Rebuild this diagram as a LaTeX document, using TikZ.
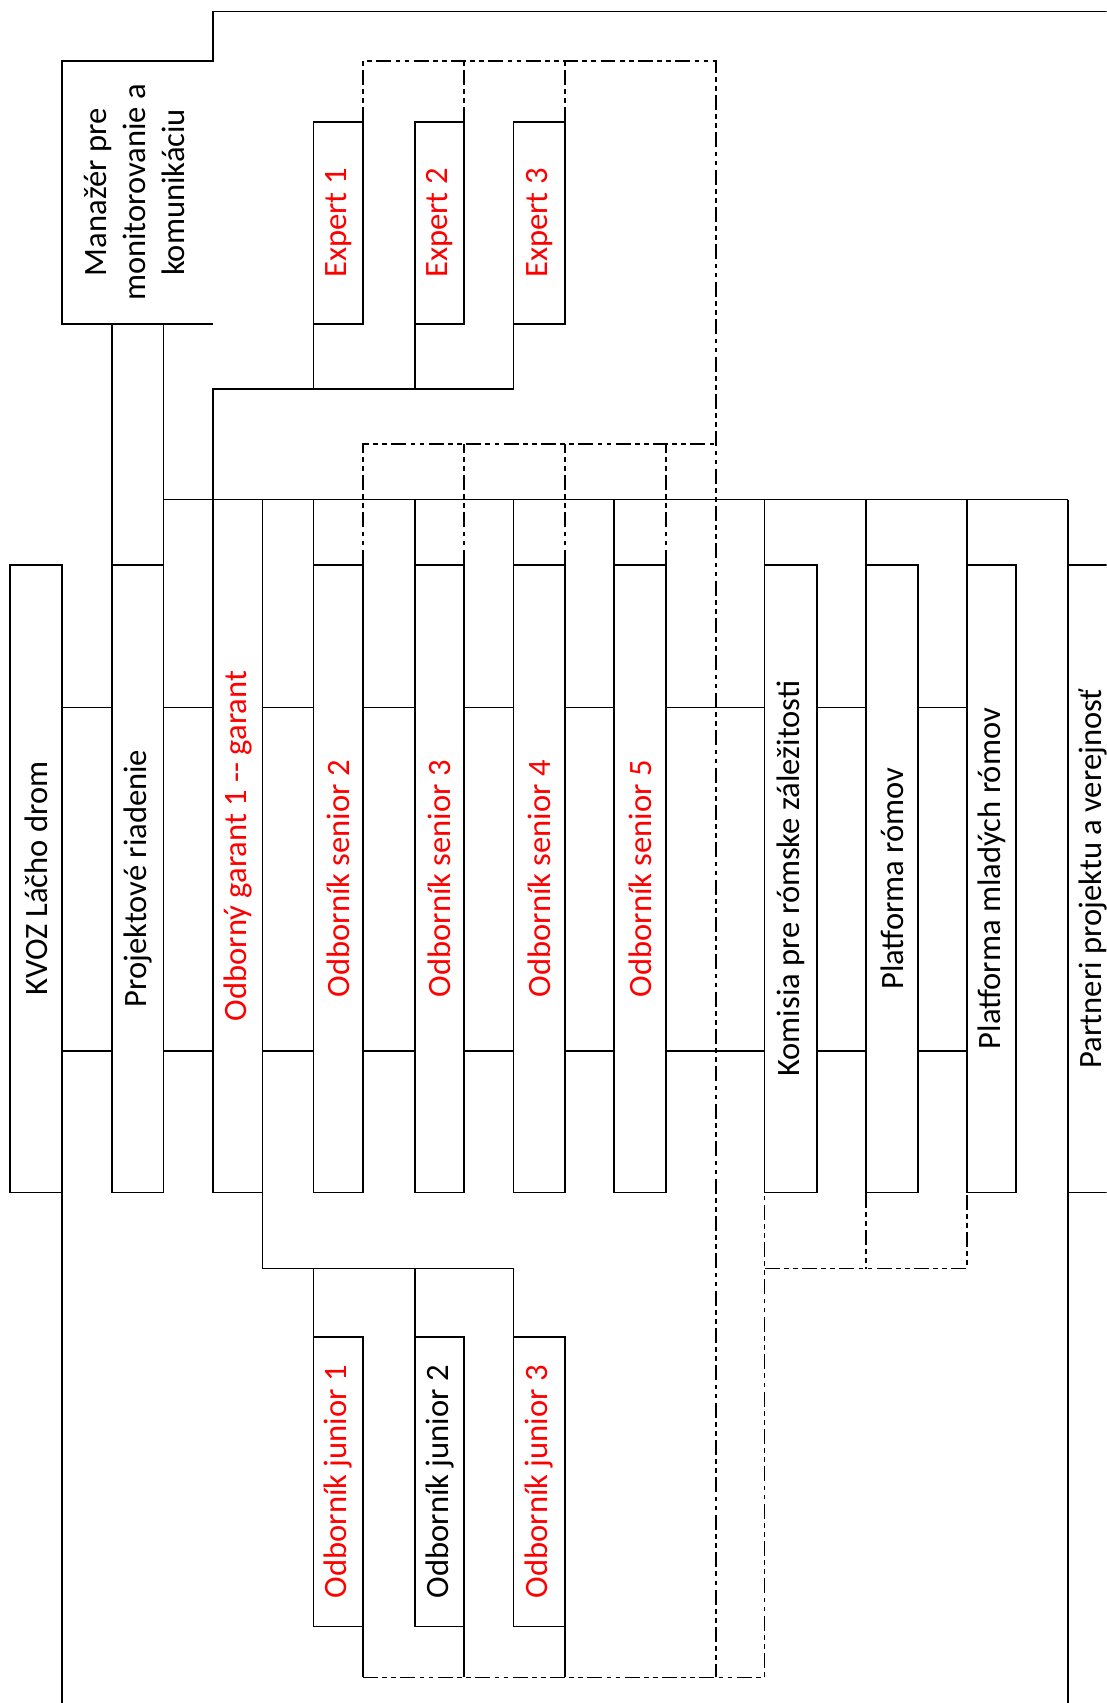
\documentclass[tikz,border=0pt]{standalone}
\usepackage{fontspec}
\setmainfont{Carlito}
\usepackage{graphicx}
\definecolor{txtred}{RGB}{255,0,0}
\newcommand{\fs}{\fontsize{15pt}{18pt}\selectfont}
\tikzset{
  bx/.style={draw, inner sep=0pt, outer sep=0pt, font=\fs},
  tallbox/.style={bx, minimum height=289pt},
  garbox/.style={bx, minimum height=319pt},
  expbox/.style={bx, minimum height=92.8pt},
  junbox/.style={bx, minimum height=133.25pt},
  redtxt/.style={text=txtred},
  dd/.style={dash pattern=on 6.9pt off 2pt on 2.15pt off 2pt on 2.15pt off 2pt}
}
\begin{document}
\begin{tikzpicture}[x=0.5pt,y=-0.5pt,line width=0.8pt]
\useasboundingbox (0,0) rectangle (1019,1568);
\clip (0,0) rectangle (1019,1568);

% helper coordinates
\coordinate (ytop) at (0,10.5);
\coordinate (ebusy) at (0,358.4);
\coordinate (dbary) at (0,408.5);
\coordinate (jbusy) at (0,1168);
\coordinate (dbusy) at (0,1544.5);
\coordinate (bot) at (0,1590);
\coordinate (rightend) at (1040,0);
\coordinate (dvx) at (659,0);
\coordinate (ha) at (0,651.3);
\coordinate (hb) at (0,967.7);

% nodes
\node[bx, draw=none, minimum width=69.3pt, minimum height=121.1pt] (mgr) at (126.7,177.1)
  {\rotatebox{90}{\begin{tabular}{@{}c@{}}Manažér pre\\monitorovanie a\\komunikáciu\end{tabular}}};

\node[tallbox, minimum width=24.1pt] (kvoz) at (33.3,809) {\rotatebox{90}{KVOZ Láčho drom}};
\node[tallbox, minimum width=23.8pt] (proj) at (126.8,809) {\rotatebox{90}{Projektové riadenie}};
\node[garbox, redtxt, minimum width=22.8pt] (garant) at (218.8,779) {\rotatebox{90}{Odborný garant 1 -{}- garant}};
\node[tallbox, redtxt, minimum width=22.85pt] (sen2) at (311.45,809) {\rotatebox{90}{Odborník senior 2}};
\node[tallbox, redtxt, minimum width=22.7pt] (sen3) at (404.7,809) {\rotatebox{90}{Odborník senior 3}};
\node[tallbox, redtxt, minimum width=23.8pt] (sen4) at (496.5,809) {\rotatebox{90}{Odborník senior 4}};
\node[tallbox, redtxt, minimum width=23.8pt] (sen5) at (589.4,809) {\rotatebox{90}{Odborník senior 5}};
\node[tallbox, minimum width=24pt] (kom) at (728,809) {\rotatebox{90}{Komisia pre rómske záležitosti}};
\node[tallbox, minimum width=23.95pt] (plat) at (821.55,809) {\rotatebox{90}{Platforma rómov}};
\node[tallbox, minimum width=22.6pt] (mlad) at (913.1,809) {\rotatebox{90}{Platforma mladých rómov}};
\node[tallbox, minimum width=23pt] (part) at (1006,809) {\rotatebox{90}{Partneri projektu a verejnosť}};

\node[expbox, redtxt, minimum width=22.85pt] (exp1) at (311.45,205.4) {\rotatebox{90}{Expert 1}};
\node[expbox, redtxt, minimum width=22.7pt] (exp2) at (404.7,205.4) {\rotatebox{90}{Expert 2}};
\node[expbox, redtxt, minimum width=23.8pt] (exp3) at (496.5,205.4) {\rotatebox{90}{Expert 3}};

\node[junbox, redtxt, minimum width=22.85pt] (jun1) at (311.45,1364.25) {\rotatebox{90}{Odborník junior 1}};
\node[junbox, minimum width=22.7pt] (jun2) at (404.7,1364.25) {\rotatebox{90}{Odborník junior 2}};
\node[junbox, redtxt, minimum width=23.8pt] (jun3) at (496.5,1364.25) {\rotatebox{90}{Odborník junior 3}};

% manager open box and top frame
\draw (mgr.south east) -- (mgr.south west) -- (mgr.north west) -- (mgr.north east)
      -- (mgr.north east |- ytop) -- (rightend |- ytop);
% manager to project management
\draw (proj.north west) -- (proj.north west |- mgr.south);
\draw (proj.north east) -- (proj.north east |- mgr.south);
% main bus
\draw (proj.north east |- garant.north) -- (part.north west |- garant.north);
\foreach \n in {sen2,sen3,sen4,sen5,kom,plat,mlad,part}
  \draw (\n.north west) -- (\n.north west |- garant.north);
% experts bus
\draw (garant.north west) -- (garant.north west |- ebusy) -- (exp3.south west |- ebusy) -- (exp3.south west);
\foreach \n in {exp1,exp2}
  \draw (\n.south west) -- (\n.south west |- ebusy);
% juniors bus
\draw (garant.south east) -- (garant.south east |- jbusy) -- (jun3.north west |- jbusy) -- (jun3.north west);
\foreach \n in {jun1,jun2}
  \draw (\n.north west) -- (\n.north west |- jbusy);
% long lines to the bottom
\draw (kvoz.south east) -- (kvoz.south east |- bot);
\draw (part.south west) -- (part.south west |- bot);
\foreach \n in {jun1,jun2,jun3}
  \draw (\n.south east) -- (\n.south east |- dbusy);
% short horizontal ties between boxes
\foreach \a/\b in {kvoz/proj,proj/garant,garant/sen2,sen2/sen3,sen3/sen4,sen4/sen5,sen5/kom,kom/plat,plat/mlad}{
  \draw (\a.east |- ha) -- (\b.west |- ha);
  \draw (\a.east |- hb) -- (\b.west |- hb);
}

% dash-dot-dot lines
\draw[dd] (exp1.north east) -- (exp1.north east |- mgr.north) -- (dvx |- mgr.north) -- (dvx |- dbusy);
\draw[dd] (exp2.north east) -- (exp2.north east |- mgr.north);
\draw[dd] (exp3.north east) -- (exp3.north east |- mgr.north);
\draw[dd] (sen2.north east) -- (sen2.north east |- dbary) -- (dvx |- dbary);
\foreach \n in {sen3,sen4,sen5}
  \draw[dd] (\n.north east) -- (\n.north east |- dbary);
\draw[dd] (jun1.south east |- dbusy) -- (kom.south west |- dbusy) -- (kom.south west);
\draw[dd] (kom.south west |- jbusy) -- (mlad.south west |- jbusy) -- (mlad.south west);
\draw[dd] (plat.south west) -- (plat.south west |- jbusy);
\end{tikzpicture}
\end{document}
